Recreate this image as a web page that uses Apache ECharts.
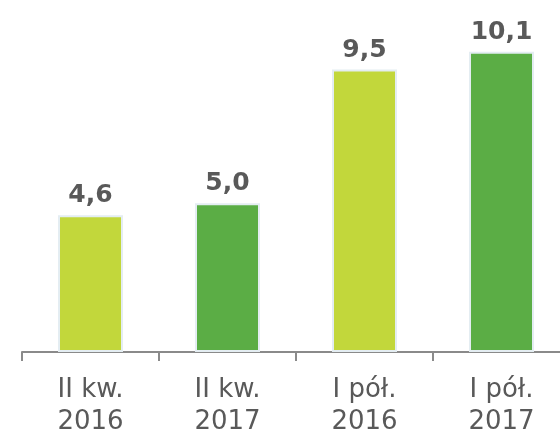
<!DOCTYPE html>
<html>
<head>
<meta charset="utf-8">
<script src="https://cdn.jsdelivr.net/npm/echarts@6/dist/echarts.min.js"></script>
<style>
html,body{margin:0;padding:0;background:#fff;}
#chart{width:560px;height:431px;}
</style>
</head>
<body>
<div id="chart"></div>
<script>
const categories = ['II kw.\n2016', 'II kw.\n2017', 'I pół.\n2016', 'I pół.\n2017'];
const values = [4.6, 5.0, 9.5, 10.1];
const barColors = ['#C2D73B', '#5BAD45', '#C2D73B', '#5BAD45'];

const chart = echarts.init(document.getElementById('chart'), null, {renderer: 'canvas'});
chart.setOption({
  animation: false,
  backgroundColor: '#ffffff',
  grid: {left: 22, top: 25, right: -10, bottom: 79, containLabel: false, outerBoundsMode: 'none'},
  xAxis: {
    type: 'category',
    data: categories,
    axisLine: {show: true, lineStyle: {color: '#8a8a8a', width: 2}},
    axisTick: {show: true, length: 9, lineStyle: {color: '#8a8a8a', width: 2}},
    axisLabel: {
      color: '#595959', fontFamily: 'DejaVu Sans', fontSize: 26,
      lineHeight: 32, margin: 22, interval: 0
    }
  },
  yAxis: {type: 'value', min: 0, max: 11, show: false, splitLine: {show: false}},
  series: [{
    type: 'bar',
    barWidth: 65,
    data: values.map((v, i) => ({value: v, itemStyle: {color: barColors[i]}})),
    itemStyle: {borderColor: '#e4edf2', borderWidth: 2},
    label: {
      show: true, position: 'top', distance: 7,
      color: '#595959', fontFamily: 'DejaVu Sans', fontWeight: 'bold', fontSize: 25,
      formatter: p => p.value.toFixed(1).replace('.', ',')
    }
  }]
});
</script>
</body>
</html>
